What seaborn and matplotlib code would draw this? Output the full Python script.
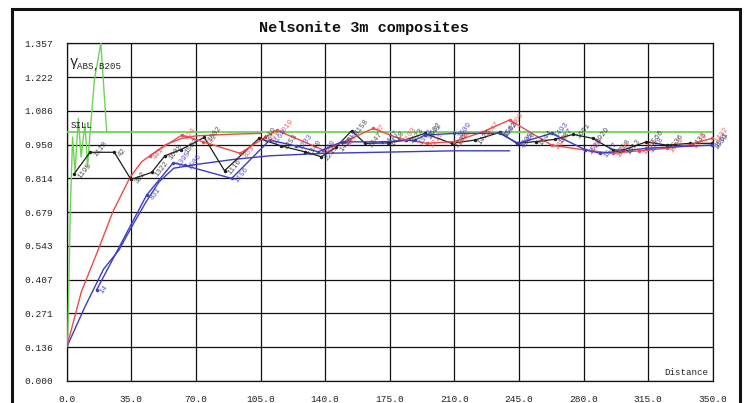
import numpy as np
import pandas as pd
import matplotlib
matplotlib.use("Agg")
import matplotlib.pyplot as plt
from matplotlib.patches import Rectangle
import seaborn as sns

# ---- data -------------------------------------------------------------
x_ticks = [0.0, 35.0, 70.0, 105.0, 140.0, 175.0, 210.0, 245.0, 280.0, 315.0, 350.0]
x_tick_labels = ["0.0", "35.0", "70.0", "105.0", "140.0", "175.0", "210.0",
                 "245.0", "280.0", "315.0", "350.0"]
y_tick_labels = ["0.000", "0.136", "0.271", "0.407", "0.543", "0.679",
                 "0.814", "0.950", "1.086", "1.222", "1.357"]
y_max = 1.357
sill = 1.0

green_x = [0.5, 2.0, 3.2, 4.5, 6.3, 7.8, 9.9, 11.3, 12.8, 15.0, 18.5, 21.7]
green_y = [0.14, 0.70, 0.98, 0.84, 1.055, 0.90, 1.035, 0.86, 1.01, 1.21, 1.357, 1.00]

black_x = [4.0, 12.6, 25.8, 34.8, 46.0, 53.2, 62.0, 74.5, 85.5, 104.2, 116.0,
           129.0, 138.0, 146.0, 154.4, 161.6, 174.0, 184.0, 194.0, 208.5, 221.0,
           234.7, 243.8, 254.0, 264.5, 274.4, 285.0, 296.0, 301.5, 314.0, 325.0,
           337.6, 349.4]
black_y = [0.832, 0.919, 0.919, 0.810, 0.838, 0.905, 0.930, 0.979, 0.845, 0.975,
           0.945, 0.921, 0.901, 0.940, 1.006, 0.955, 0.957, 0.970, 0.995, 0.955,
           0.968, 0.999, 0.955, 0.962, 0.971, 0.991, 0.975, 0.928, 0.928, 0.961,
           0.948, 0.955, 0.955]
black_pairs = ["1195", "1118", "42", "382", "1322", "1608", "1502", "1002", "1116",
               "1019", "1253", "1340", "2219", "1456", "1158", "1347", "1478",
               "1523", "1632", "1708", "1426", "1563", "1395", "1644", "1587",
               "1661", "1929", "1758", "1613", "1566", "1536", "1433", "1561"]

red_x = [45.0, 62.3, 74.0, 93.9, 107.4, 113.8, 139.0, 150.0, 166.0, 180.0, 195.0,
         210.0, 225.0, 240.0, 262.7, 280.8, 296.0, 310.0, 325.0, 338.0, 349.4]
red_y = [0.905, 0.988, 0.961, 0.915, 0.979, 1.008, 0.928, 0.960, 1.015, 0.975,
         0.955, 0.962, 1.000, 1.049, 0.948, 0.928, 0.915, 0.925, 0.935, 0.950, 0.975]
red_pairs = ["441", "624", "712", "833", "919", "1019", "902", "987", "47",
             "1103", "1215", "1186", "1247", "800", "1322", "1190", "1208",
             "1265", "1311", "1349", "1402"]

red_model_x = [0, 8, 17, 25, 34.3, 40.6, 53.2, 62.3, 70, 90, 105]
red_model_y = [0.136, 0.36, 0.526, 0.68, 0.818, 0.881, 0.948, 0.975, 0.985, 0.992, 0.995]

blue_x = [16.2, 43.3, 57.7, 64.0, 89.4, 110.0, 124.0, 136.3, 149.0, 170.6, 188.7,
          194.0, 210.0, 234.7, 244.6, 262.7, 280.8, 289.0, 314.0, 349.4]
blue_y = [0.366, 0.747, 0.877, 0.866, 0.814, 0.968, 0.945, 0.921, 0.961, 0.961,
          0.968, 0.988, 0.995, 0.995, 0.955, 0.995, 0.930, 0.915, 0.935, 0.948]
blue_pairs = ["14", "831", "1395", "1506", "1156", "1160", "1233", "2240", "1318",
              "1427", "1372", "1541", "1609", "1582", "1536", "1493", "1520",
              "1547", "1588", "1630"]

blue_model_x = [0, 10, 20, 28.3, 36, 43, 50, 58, 70, 90, 110, 140, 175, 210, 240]
blue_model_y = [0.136, 0.30, 0.45, 0.526, 0.63, 0.72, 0.80, 0.855, 0.87, 0.89,
                0.905, 0.915, 0.92, 0.925, 0.925]

sill_x = [0.0, 350.0]
sill_y = [sill, sill]

# ---- style ------------------------------------------------------------
sns.set_style("white")
MONO = ["Liberation Mono", "DejaVu Sans Mono"]
plt.rcParams["font.family"] = MONO

GREEN = "#6fd256"
RED = "#ec4a4f"
BLUE = "#3c3cc4"
BLACK = "#1e1e1e"

W, H = 750, 403
fig = plt.figure(figsize=(W / 100, H / 100), dpi=100)
fig.patch.set_facecolor("white")

# axes placed in pixel terms of the figure
left, right, bottom, top = 66.7, 712.7, 381.0, 43.3
ax = fig.add_axes([left / W, 1 - bottom / H, (right - left) / W, (bottom - top) / H])

# outer frame around the whole chart
fig.patches.append(Rectangle((12 / W, -0.05), (740 - 12) / W, 1.05 - 9 / H,
                             transform=fig.transFigure, fill=False,
                             edgecolor="#111111", linewidth=2.2))


def draw(xs, ys, color, lw=1.0, marker=None):
    df = pd.DataFrame({"x": xs, "y": ys})
    sns.lineplot(data=df, x="x", y="y", ax=ax, color=color, linewidth=lw,
                 sort=False, estimator=None, marker=marker, markersize=2.5,
                 markeredgewidth=0, zorder=3)


def annotate(xs, ys, labels, color):
    for x, y, s in zip(xs, ys, labels):
        ax.text(x + 1.2, y - 0.006, s, rotation=52, rotation_mode="anchor",
                ha="left", va="top", fontsize=5.4, color=color, alpha=0.85,
                zorder=4)


draw(sill_x, sill_y, GREEN, lw=1.3)
draw(green_x, green_y, GREEN, lw=1.0)
draw(blue_model_x, blue_model_y, BLUE, lw=1.0)
draw(red_model_x, red_model_y, RED, lw=1.0)
draw(black_x, black_y, BLACK, lw=0.9, marker="o")
draw(red_x, red_y, RED, lw=1.0, marker="o")
draw(blue_x, blue_y, BLUE, lw=1.0, marker="o")

annotate(black_x, black_y, black_pairs, "#333333")
annotate(red_x, red_y, red_pairs, RED)
annotate(blue_x, blue_y, blue_pairs, BLUE)

# axes, grid and ticks
ax.set_xlim(0, 350)
ax.set_ylim(0, y_max)
ax.set_xticks(x_ticks)
ax.set_xticklabels(x_tick_labels)
y_ticks = [y_max * i / 10 for i in range(11)]
ax.set_yticks(y_ticks)
ax.set_yticklabels(y_tick_labels)
ax.grid(True, color="#111111", linewidth=0.9)
ax.set_axisbelow(True)
for sp in ax.spines.values():
    sp.set_color("#111111")
    sp.set_linewidth(0.9)
ax.tick_params(axis="both", direction="out", length=8, width=0.9,
               color="#111111", labelsize=6.8, labelcolor="#222222", pad=2)
ax.set_xlabel("")
ax.set_ylabel("")

# in-plot annotations
ax.text(1.4, 1.28, "γ", fontsize=10, color="#222222", ha="left", va="center")
ax.text(5.6, 1.265, "ABS,B205", fontsize=6.6, color="#222222", ha="left", va="center")
ax.text(2.3, 1.025, "SILL", fontsize=6.6, color="#222222", ha="left", va="center")
ax.text(347.5, 0.036, "Distance", fontsize=6.6, color="#222222", ha="right", va="center")

fig.text(364 / W, 1 - 28 / H, "Nelsonite 3m composites", ha="center", va="center",
         fontsize=11, fontweight="bold", color="#111111")

fig.savefig("out.png", dpi=100, facecolor="white")
